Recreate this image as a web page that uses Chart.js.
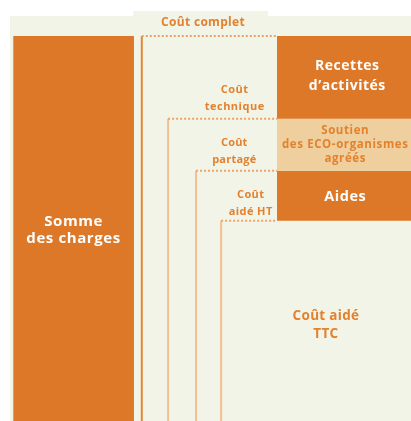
<!DOCTYPE html>
<html lang="fr">
<head>
<meta charset="utf-8">
<title>Du coût complet au coût aidé</title>
<script src="https://cdn.jsdelivr.net/npm/chart.js@4.4.1/dist/chart.umd.min.js"></script>
<style>
  html, body { margin: 0; padding: 0; background: #fff; }
  #wrap { width: 411px; height: 421px; position: relative; }
</style>
</head>
<body>
<div id="wrap"><canvas id="costChart"></canvas></div>
<script>
// -------------------------- Data --------------------------

const totalLabel = 'Somme\ndes charges';
const totalCharges = 100;
const revenueLabels = ['Recettes\nd’activités', 'Soutien\ndes ECO-organismes\nagréés', 'Aides'];
const revenueAmounts = [21.5, 13.5, 13];
const costLabels = ['Coût complet', 'Coût\ntechnique', 'Coût\npartagé', 'Coût\naidé HT'];
const finalCostLabel = 'Coût aidé\nTTC';

// cost level after each revenue is taken off: 100, 78.5, 65, 52
const costLevels = [totalCharges];
revenueAmounts.forEach((a, i) => costLevels.push(costLevels[i] - a));

// -------------------------- Layout --------------------------

const X_MAX = 100, Y_MAX = 109.35;
const paperEdge = 2.4, paperTop = 105.2, tabTop = 106.5, tabCol = [32.4, 65.2];
const chargeCol = [3.2, 32.6];
const costLanes = [34.5, 40.9, 47.7, 53.8];
const revenueCol = [67.4, 100];

const dark = '#dc7828';
const light = '#efcf9d';
const cream = '#f2f4e7';
const textOrange = '#e2822f';
const laneColors = ['#e3863a', '#f0c092', '#f0c092', '#f0c092'];
const dotColor = '#eca468';
const none = 'rgba(0,0,0,0)';

function box(x0, x1, top, bottom, color, order) {
    return {
        data: [{x: x0, y: top}, {x: x1, y: top}],
        fill: {value: bottom}, backgroundColor: color,
        borderColor: none, borderWidth: 0, pointRadius: 0, order: order
    };
}

const datasets = [];

// paper with the top tab
datasets.push({
    data: [
        {x: paperEdge, y: paperTop}, {x: tabCol[0], y: paperTop}, {x: tabCol[0], y: tabTop},
        {x: tabCol[1], y: tabTop}, {x: tabCol[1], y: paperTop}, {x: X_MAX, y: paperTop}
    ],
    fill: 'origin', backgroundColor: cream, borderColor: none, borderWidth: 0, pointRadius: 0, order: 10
});

// total charges bar
datasets.push(box(chargeCol[0], chargeCol[1], totalCharges, 0, dark, 5));

// revenue blocks
const blockColors = [dark, light, dark];
revenueAmounts.forEach((a, i) => {
    datasets.push(box(revenueCol[0], revenueCol[1], costLevels[i], costLevels[i + 1], blockColors[i], 5));
});

// cost brackets: solid vertical then dotted top
costLanes.forEach((lx, i) => {
    datasets.push({
        data: [{x: lx, y: 0}, {x: lx, y: costLevels[i]}, {x: revenueCol[0], y: costLevels[i]}],
        fill: false, borderColor: laneColors[i], borderWidth: 2, pointRadius: 0, order: 1,
        segment: {
            borderDash: ctx => ctx.p0DataIndex === 1 ? [2, 2] : undefined,
            borderColor: ctx => ctx.p0DataIndex === 1 ? dotColor : undefined
        }
    });
});

// -------------------------- Texts --------------------------

const white = '#ffffff';
const textItems = [
    {text: totalLabel, x: (chargeCol[0] + chargeCol[1]) / 2, y: 49.6, size: 15, sp: 0.6, lh: 17, color: white},
    {text: costLabels[0], x: 49.4, y: 103.4, size: 12, sp: 0.3, lh: 14, color: textOrange},
    {text: costLabels[1], x: 57.1, y: costLevels[1] + 5.3, size: 11, sp: 0.5, lh: 17, color: textOrange},
    {text: costLabels[2], x: 57.0, y: costLevels[2] + 5, size: 11, sp: 0.2, lh: 17, color: textOrange},
    {text: costLabels[3], x: 61.0, y: costLevels[3] + 4.6, size: 11, sp: 0.4, lh: 17, color: textOrange},
    {text: revenueLabels[0], x: 84.5, y: (costLevels[0] + costLevels[1]) / 2 + 0.3, size: 14, sp: 0.5, lh: 20, color: white},
    {text: revenueLabels[1], x: 84.0, y: (costLevels[1] + costLevels[2]) / 2, size: 11.5, sp: 0.6, lh: 14, color: textOrange},
    {text: revenueLabels[2], x: 84.0, y: (costLevels[2] + costLevels[3]) / 2 - 0.2, size: 14.5, sp: 0.5, lh: 18, color: white},
    {text: finalCostLabel, x: 79.3, y: 24.9, size: 13.5, sp: 0.3, lh: 18, color: textOrange}
];

const textPlugin = {
    id: 'boxText',
    afterDatasetsDraw(chart) {
        const {ctx, scales: {x, y}} = chart;
        ctx.save();
        ctx.textAlign = 'center';
        ctx.textBaseline = 'middle';
        textItems.forEach(t => {
            const lines = t.text.split('\n');
            ctx.font = `bold ${t.size}px "Open Sans", sans-serif`;
            ctx.letterSpacing = t.sp + 'px';
            ctx.fillStyle = t.color;
            const cx = x.getPixelForValue(t.x), cy = y.getPixelForValue(t.y);
            lines.forEach((line, i) => ctx.fillText(line, cx, cy + (i - (lines.length - 1) / 2) * t.lh));
        });
        ctx.restore();
    }
};

// -------------------------- Chart --------------------------

new Chart(document.getElementById('costChart').getContext('2d'), {
    type: 'line',
    data: {datasets: datasets},
    options: {
        responsive: true, maintainAspectRatio: false, animation: false, events: [],
        layout: {padding: 0},
        scales: {
            x: {type: 'linear', min: 0, max: X_MAX, display: false},
            y: {type: 'linear', min: 0, max: Y_MAX, display: false}
        },
        plugins: {legend: {display: false}, tooltip: {enabled: false}}
    },
    plugins: [textPlugin]
});
</script>
</body>
</html>
